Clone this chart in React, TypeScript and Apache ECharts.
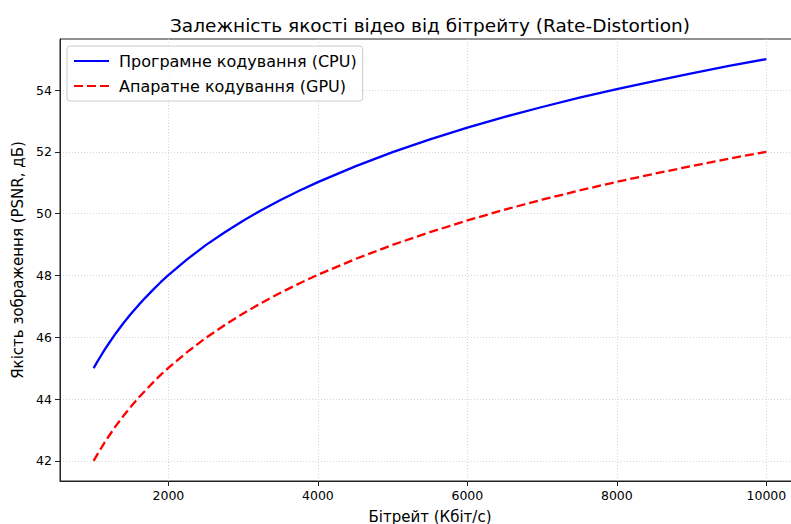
import React, { useEffect, useRef } from "react";
import * as echarts from "echarts";

const bitrate = [1000, 1050, 1100, 1150, 1200, 1300, 1400, 1500, 1600, 1700, 1800, 1900, 2000, 2250, 2500, 2750, 3000, 3250, 3500, 3750, 4000, 4500, 5000, 5500, 6000, 6500, 7000, 7500, 8000, 8500, 9000, 9500, 10000];
const cpuPsnr = [45.0, 45.21, 45.41, 45.61, 45.79, 46.14, 46.46, 46.76, 47.04, 47.3, 47.55, 47.79, 48.01, 48.52, 48.98, 49.39, 49.77, 50.12, 50.44, 50.74, 51.02, 51.53, 51.99, 52.4, 52.78, 53.13, 53.45, 53.75, 54.03, 54.29, 54.54, 54.78, 55.0];
const gpuPsnr = [42.0, 42.21, 42.41, 42.61, 42.79, 43.14, 43.46, 43.76, 44.04, 44.3, 44.55, 44.79, 45.01, 45.52, 45.98, 46.39, 46.77, 47.12, 47.44, 47.74, 48.02, 48.53, 48.99, 49.4, 49.78, 50.13, 50.45, 50.75, 51.03, 51.29, 51.54, 51.78, 52.0];
const xTicks = [2000, 4000, 6000, 8000, 10000];
const yTicks = [42, 44, 46, 48, 50, 52, 54];

const FONT = "DejaVu Sans";

export default function App() {
  const ref = useRef<HTMLDivElement>(null);
  useEffect(() => {
    if (!ref.current) return;
    const chart = echarts.init(ref.current, undefined, { renderer: "svg" });
    const gridLine = { show: true, lineStyle: { color: "#cccccc", width: 0.8, type: [1, 2] as any } };
    chart.setOption({
      animation: false,
      backgroundColor: "#ffffff",
      textStyle: { fontFamily: FONT },
      graphic: [
        {
          type: "text",
          x: 430,
          y: 25,
          style: {
            text: "Залежність якості відео від бітрейту (Rate-Distortion)",
            fontFamily: FONT,
            fontSize: 18.5,
            fill: "#000",
            textAlign: "center",
            textVerticalAlign: "middle",
          },
        },
      ],
      grid: {
        left: 60,
        top: 39,
        bottom: 43,
        right: -9,
        show: true,
        borderColor: "#222",
        borderWidth: 1,
        outerBoundsMode: "none",
        containLabel: false,
      },
      legend: {
        orient: "vertical",
        left: 67,
        top: 46,
        padding: [7, 6, 7, 6],
        itemWidth: 35,
        itemHeight: 14,
        itemGap: 9,
        itemStyle: { opacity: 0 },
        backgroundColor: "rgba(255,255,255,0.8)",
        borderColor: "#cccccc",
        borderWidth: 1,
        borderRadius: 3,
        textStyle: { fontFamily: FONT, fontSize: 16, color: "#000", padding: [0, 0, 0, 5] },
        data: ["Програмне кодування (CPU)", "Апаратне кодування (GPU)"],
      },
      xAxis: {
        type: "value",
        min: 550,
        max: 10450,
        name: "Бітрейт (Кбіт/с)",
        nameLocation: "middle",
        nameGap: 28,
        nameTextStyle: { fontFamily: FONT, fontSize: 15, color: "#000" },
        axisLine: { show: true, onZero: false, lineStyle: { color: "#222", width: 1 } },
        axisTick: { show: true, inside: false, length: 5, customValues: xTicks, lineStyle: { color: "#222" } },
        axisLabel: {
          customValues: xTicks,
          formatter: (v: number) => String(v),
          fontFamily: FONT,
          fontSize: 12.5,
          color: "#000",
          margin: 8,
        },
        splitLine: gridLine,
      },
      yAxis: {
        type: "value",
        min: 41.35,
        max: 55.65,
        name: "Якість зображення (PSNR, дБ)",
        nameLocation: "middle",
        nameGap: 34,
        nameTextStyle: { fontFamily: FONT, fontSize: 15, color: "#000" },
        axisLine: { show: true, onZero: false, lineStyle: { color: "#222", width: 1 } },
        axisTick: { show: true, inside: false, length: 5, customValues: yTicks, lineStyle: { color: "#222" } },
        axisLabel: {
          customValues: yTicks,
          formatter: (v: number) => String(v),
          fontFamily: FONT,
          fontSize: 12.5,
          color: "#000",
          margin: 8,
        },
        splitLine: gridLine,
      },
      series: [
        {
          name: "Програмне кодування (CPU)",
          type: "line",
          data: bitrate.map((b, i) => [b, cpuPsnr[i]]),
          showSymbol: false,
          symbol: "none",
          smooth: false,
          lineStyle: { color: "#0000ff", width: 2.3 },
          itemStyle: { color: "#0000ff" },
        },
        {
          name: "Апаратне кодування (GPU)",
          type: "line",
          data: bitrate.map((b, i) => [b, gpuPsnr[i]]),
          showSymbol: false,
          symbol: "none",
          smooth: false,
          lineStyle: { color: "#ff0000", width: 2.3, type: [9, 4] as any },
          itemStyle: { color: "#ff0000" },
        },
      ],
    });
    return () => chart.dispose();
  }, []);
  return <div ref={ref} style={{ position: "absolute", left: 0, top: 0, width: 791, height: 524 }} />;
}
